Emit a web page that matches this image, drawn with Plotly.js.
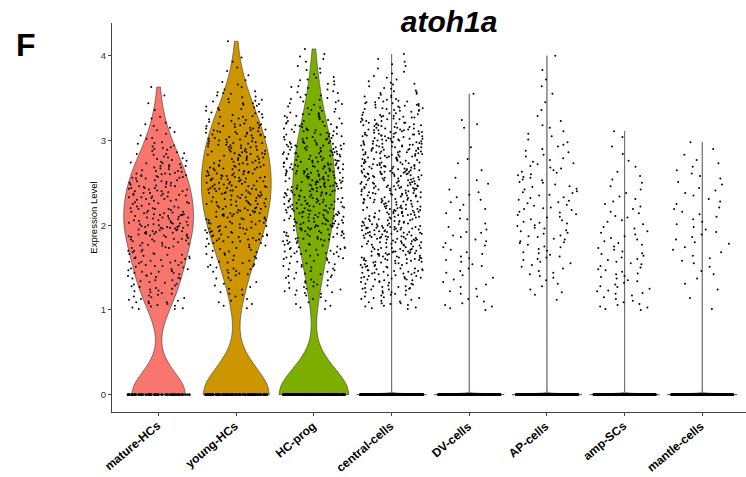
<!DOCTYPE html>
<html><head><meta charset="utf-8">
<script src="https://cdn.plot.ly/plotly-3.0.1.min.js"></script>
<style>html,body{margin:0;padding:0;background:#fff}#chart{width:746px;height:477px}</style>
</head><body><div id="chart"></div>
<script>
const categories = ['mature-HCs','young-HCs','HC-prog','central-cells','DV-cells','AP-cells','amp-SCs','mantle-cells'];
const fillColors = ['#F8766D','#CD9600','#7CAE00','#00BE67','#00BFC4','#00A9FF','#C77CFF','#FF61CC'];
// number of cells with zero expression in each group
const zeroCounts = [89,150,320,2500,500,600,500,400];
// non-zero expression values
const matureHCs = [1.04,1.87,2.31,1.52,2.64,2.08,1.29,2.45,1.73,2.93,1.16,2.19,1.95,2.57,1.41,2.71,2.02,1.68,3.08,2.36,
1.63,2.12,1.08,2.49,1.91,2.77,1.35,2.26,1.58,2.03,2.84,1.79,2.4,1.22,2.61,1.98,3.17,1.45,2.15,2.53,
2.21,1.12,1.84,2.68,1.47,2.33,2.05,1.66,2.92,1.27,2.46,1.93,2.13,1.56,2.74,1.02,2.38,1.81,3.26,2.59,
1.75,2.56,1.33,2.09,2.89,1.61,2.25,1.19,2.42,1.96,1.5,2.69,2.17,1.88,2.98,1.39,2.3,2.0,1.7,3.12,
2.47,1.43,1.99,2.63,1.06,2.22,1.83,2.8,1.57,2.14,1.31,2.52,1.92,2.37,1.65,2.73,1.24,2.06,3.03,2.44,
1.89,2.29,1.14,2.58,1.76,2.01,2.86,1.48,2.19,1.37,2.65,1.97,2.41,1.6,2.11,1.01,2.5,1.85,3.21,2.34,
2.07,1.53,2.72,1.26,2.35,1.94,1.69,2.6,2.16,1.4,2.96,1.8,2.27,1.1,2.44,2.04,1.59,2.78,3.36,1.9,
1.44,2.4,1.86,2.2,1.17,2.67,1.98,2.55,1.34,2.12,1.77,2.83,1.62,2.32,2.0,1.05,2.48,1.93,2.91,3.15,
2.26,1.71,2.09,1.21,2.53,1.87,2.75,1.46,2.38,1.97,1.55,2.62,2.14,1.3,2.85,1.82,2.44,1.09,2.02,3.44,
1.96,2.57,1.38,2.23,1.67,2.7,1.13,2.1,2.46,1.84,1.51,2.94,2.31,1.74,2.05,1.25,2.59,1.91,3.06,2.37,
2.43,1.58,1.92,2.66,1.03,2.18,1.78,2.52,1.42,2.29,2.0,1.64,2.81,1.35,2.13,2.4,1.88,1.18,2.73,3.28,
1.81,2.34,1.49,2.11,2.61,1.23,2.47,1.95,1.7,2.88,2.06,1.57,2.22,1.11,2.68,1.99,2.36,1.44,3.1,2.55,
2.16,1.66,2.79,1.32,2.42,1.89,2.03,1.15,2.56,1.76,2.3,1.53,2.97,2.09,1.4,2.64,1.94,1.07,2.25,3.63,
1.52,2.5,1.97,2.27,1.28,2.7,1.83,2.15,1.61,2.39,1.01,2.84,2.01,1.73,2.58,1.45,2.2,1.9,3.02,2.45,
2.33,1.2,1.86,2.6,1.56,2.08,2.76,1.37,2.19,1.79,2.51,1.09,2.35,1.98,1.65,2.9,2.12,1.48,3.19,3.53];
const youngHCs = [1.13,1.52,1.71,1.88,1.96,2.07,2.18,2.26,2.37,2.44,2.58,2.63,2.77,2.84,2.97,3.06,3.15,3.28,3.47,3.66,
1.31,1.45,1.64,1.83,1.99,2.02,2.14,2.23,2.39,2.41,2.53,2.68,2.72,2.81,2.93,3.01,3.19,3.24,3.42,2.5,
1.05,1.57,1.77,1.81,1.92,2.11,2.19,2.28,2.31,2.47,2.56,2.61,2.79,2.89,2.95,3.09,3.12,3.36,3.55,3.82,
1.24,1.49,1.68,1.86,1.94,2.04,2.16,2.21,2.34,2.43,2.59,2.66,2.74,2.82,2.99,3.03,3.17,3.31,3.44,2.52,
1.38,1.41,1.74,1.79,1.9,2.09,2.13,2.25,2.38,2.46,2.51,2.64,2.7,2.86,2.91,3.07,3.2,3.27,3.51,3.71,
1.18,1.55,1.62,1.84,1.97,2.06,2.17,2.29,2.33,2.48,2.57,2.62,2.76,2.88,2.94,3.04,3.14,3.38,3.46,2.41,
1.27,1.47,1.73,1.89,1.93,2.01,2.12,2.22,2.36,2.42,2.55,2.69,2.73,2.83,2.96,3.1,3.18,3.25,3.58,3.93,
1.09,1.59,1.66,1.82,1.98,2.08,2.2,2.27,2.35,2.49,2.54,2.67,2.78,2.85,2.92,3.02,3.16,3.33,3.4,2.6,
1.35,1.43,1.76,1.87,1.91,2.03,2.15,2.24,2.32,2.45,2.58,2.61,2.71,2.87,2.98,3.08,3.11,3.29,3.49,3.63,
1.21,1.51,1.69,1.8,1.95,2.1,2.18,2.3,2.39,2.4,2.52,2.65,2.75,2.8,2.9,3.05,3.21,3.35,3.53,2.46,
1.02,1.56,1.63,1.85,1.99,2.05,2.11,2.26,2.37,2.47,2.56,2.63,2.79,2.84,2.97,3.0,3.13,3.22,3.43,3.77,
1.33,1.48,1.78,1.83,1.92,2.07,2.19,2.21,2.31,2.44,2.59,2.68,2.72,2.89,2.93,3.09,3.19,3.3,3.57,2.55,
1.16,1.53,1.72,1.88,1.96,2.02,2.14,2.28,2.34,2.42,2.51,2.64,2.77,2.81,2.95,3.06,3.15,3.37,3.45,3.86,
1.29,1.44,1.67,1.81,1.97,2.09,2.16,2.23,2.38,2.48,2.57,2.66,2.7,2.86,2.91,3.03,3.12,3.26,3.52,2.43,
1.07,1.58,1.75,1.86,1.9,2.04,2.13,2.25,2.33,2.45,2.53,2.62,2.74,2.88,2.99,3.07,3.17,3.32,3.41,3.69,
1.37,1.46,1.61,1.84,1.94,2.06,2.17,2.29,2.36,2.41,2.54,2.69,2.78,2.83,2.92,3.01,3.2,3.23,3.56,2.58,
1.19,1.54,1.79,1.89,1.93,2.01,2.12,2.22,2.32,2.49,2.55,2.61,2.73,2.87,2.96,3.1,3.14,3.39,3.48,4.17,
1.25,1.42,1.7,1.82,1.98,2.08,2.2,2.27,2.35,2.46,2.59,2.67,2.76,2.82,2.94,3.04,3.18,3.28,3.6,2.5,
1.11,1.5,1.65,1.87,1.91,2.03,2.15,2.24,2.39,2.43,2.52,2.65,2.71,2.85,2.98,3.08,3.11,3.34,3.44,3.98];
const hcProg = [2.41,1.86,2.97,1.22,2.63,2.15,1.67,3.08,2.28,1.93,2.52,1.48,2.84,2.06,3.31,2.72,1.75,2.36,3.47,2.91,
1.58,2.24,2.87,2.01,1.81,2.69,3.16,1.34,2.47,2.12,2.78,1.96,2.33,3.02,1.66,2.55,3.38,2.94,2.18,3.62,
2.09,1.44,2.61,3.11,1.89,2.37,2.83,1.07,2.26,2.99,1.72,2.5,2.14,3.24,1.92,2.76,2.43,3.53,2.05,2.66,
2.74,1.61,2.2,3.05,1.84,2.44,2.93,1.28,2.58,2.03,3.19,1.77,2.31,2.68,1.98,3.36,2.11,2.86,1.53,3.44,
1.95,2.53,3.13,1.39,2.29,2.81,1.69,2.4,2.07,2.96,1.83,2.64,3.27,2.17,2.47,1.5,3.01,2.73,2.25,3.71,
2.35,1.79,2.88,1.17,2.6,2.13,3.09,1.91,2.45,2.79,1.63,2.22,3.33,2.02,2.54,1.46,2.95,2.67,3.49,2.38,
2.71,2.04,1.55,3.14,2.32,1.87,2.62,2.98,1.32,2.19,2.51,3.22,1.74,2.85,2.08,2.42,1.99,3.4,2.77,3.58,
1.68,2.46,3.03,2.16,1.94,2.7,1.25,2.36,2.89,1.82,2.57,3.17,2.1,2.65,1.42,3.29,2.27,2.92,2.01,3.8,
2.23,1.88,2.59,3.07,1.6,2.4,2.82,1.13,2.14,2.75,3.2,1.97,2.49,2.06,1.7,3.35,2.64,2.97,2.31,3.45,
2.56,1.47,2.18,2.9,1.85,2.34,3.12,1.36,2.67,2.03,2.8,1.78,2.43,3.26,1.93,2.53,2.12,3.51,2.74,3.66,
1.99,2.61,1.65,3.0,2.28,2.86,1.21,2.47,2.15,2.72,1.84,3.15,2.39,1.56,2.58,2.05,3.3,2.94,2.21,2.5,
2.44,1.73,2.96,1.3,2.2,2.63,3.1,1.9,2.52,2.08,2.81,1.64,2.35,3.23,1.96,2.69,2.27,3.42,2.87,3.75,
2.12,1.52,2.68,3.04,1.8,2.38,2.91,1.03,2.57,2.24,3.18,1.87,2.46,2.76,1.71,3.32,2.01,2.83,2.3,3.56,
2.65,1.94,2.17,3.13,1.41,2.49,2.85,1.76,2.33,3.06,2.1,2.73,1.59,2.41,3.27,2.0,2.55,2.99,2.22,3.64,
1.83,2.58,3.01,2.25,1.67,2.79,1.27,2.42,2.11,2.93,1.98,3.21,2.36,1.49,2.62,2.04,3.39,2.7,2.48,3.85,
2.3,1.62,2.84,1.19,2.54,2.07,3.08,1.91,2.4,2.75,1.78,2.19,3.16,2.61,1.45,2.95,2.29,3.46,2.66,2.02,
2.77,2.13,1.57,3.11,2.45,1.86,2.64,2.97,1.35,2.23,2.52,3.25,1.72,2.88,2.05,2.37,1.95,3.37,2.71,3.6,
1.74,2.5,3.04,2.18,1.9,2.67,1.23,2.39,2.92,1.81,2.59,3.14,2.09,2.63,1.43,3.28,2.26,2.9,2.0,3.72,
2.21,1.85,2.6,3.02,1.63,2.43,2.78,1.11,2.15,2.73,3.19,1.99,2.51,2.08,1.69,3.34,2.62,2.96,2.34,3.5,
2.53,1.51,2.2,2.86,1.88,2.32,3.09,1.38,2.69,2.06,2.82,1.77,2.47,3.23,1.92,2.55,2.14,3.43,2.76,3.93,
1.97,2.64,1.66,3.05,2.27,2.89,1.26,2.44,2.17,2.7,1.84,3.12,2.41,1.54,2.57,2.03,3.31,2.98,2.24,4.02,
2.48,1.7,2.94,1.33,2.22,2.66,3.07,1.93,2.5,2.1,2.85,1.61,2.38,3.2,1.96,2.72,2.29,3.48,2.84,3.67,
2.16,1.55,2.71,3.03,1.82,2.35,2.93,1.05,2.56,2.25,3.17,1.89,2.45,2.77,1.73,3.29,2.02,2.81,2.31,4.08,
1.15,1.29,1.37,1.2,1.09,1.24,3.78,3.88,3.7,3.96,1.01,1.32,3.83,3.57,3.63,1.18,3.99,3.74,1.4,3.54];
const centralCells = [2.31,1.74,2.88,1.12,3.05,2.46,1.93,2.67,1.58,3.38,2.09,1.37,2.72,1.86,3.21,2.54,1.65,2.19,2.98,3.52,
1.46,2.77,3.12,1.89,2.03,2.61,1.28,3.44,2.36,1.71,2.92,1.55,2.25,3.28,1.97,2.49,1.04,2.83,3.66,2.14,
2.58,1.33,1.82,3.09,2.41,2.95,1.62,2.17,3.35,1.49,2.71,1.91,2.28,1.16,3.17,2.64,1.77,2.06,3.48,2.86,
1.95,3.01,2.52,1.41,2.23,2.79,1.68,3.25,1.24,2.38,2.99,1.84,2.11,3.57,1.53,2.66,3.14,2.44,1.07,2.01,
2.73,1.59,3.32,2.18,1.88,2.47,1.36,2.91,3.06,1.72,2.33,2.62,1.99,3.41,1.45,2.82,2.15,1.21,3.19,2.55,
1.64,2.27,3.46,2.84,1.93,1.18,2.57,3.11,2.05,1.51,2.69,3.29,1.79,2.42,2.96,1.31,2.2,3.72,2.6,1.86,
3.03,2.35,1.42,2.78,1.97,2.51,1.67,3.23,2.12,1.27,2.87,3.39,1.81,2.45,2.01,1.56,2.65,3.15,2.3,1.1,
2.43,1.76,2.94,1.39,3.08,2.22,1.92,2.68,3.51,1.61,2.37,2.81,1.14,2.08,3.27,1.85,2.59,1.48,3.0,2.74,
1.54,2.63,3.36,2.16,1.8,2.89,1.25,3.13,2.4,1.98,2.53,1.69,3.45,2.26,1.43,2.76,3.02,1.9,2.1,3.81,
2.85,1.35,2.29,3.18,1.73,2.5,2.04,1.58,3.31,2.67,1.96,2.39,1.19,2.93,3.07,1.63,2.21,2.7,1.44,3.59,
2.12,1.87,3.24,2.56,1.3,2.8,1.66,2.34,3.42,1.94,2.48,2.97,1.52,2.07,3.1,1.78,2.63,1.22,2.86,3.33,
1.71,2.44,2.99,1.47,3.2,2.18,1.83,2.74,1.05,2.58,3.37,1.6,2.32,2.9,2.02,1.38,3.04,2.66,1.95,2.24,
3.16,2.05,1.57,2.61,3.47,1.89,2.38,1.26,2.83,2.14,1.74,3.06,2.52,1.99,1.45,2.77,3.26,2.27,1.69,2.95,
2.47,1.33,2.9,1.8,3.13,2.2,1.62,2.69,3.4,2.09,1.5,2.55,1.92,3.22,2.36,1.15,2.81,3.01,1.76,2.43,
1.97,2.72,3.3,1.41,2.29,2.6,1.84,3.09,2.15,1.65,2.87,1.29,2.5,3.55,2.0,1.73,2.42,2.93,1.53,3.18,
2.64,1.9,2.26,3.44,1.36,2.78,2.1,1.59,3.03,2.53,1.82,2.35,2.98,1.2,2.7,3.28,1.67,2.17,3.68,2.46,
1.48,2.84,3.12,2.04,1.78,2.57,1.24,3.36,2.31,1.94,2.65,1.61,2.89,3.07,2.22,1.39,2.49,1.86,3.49,2.76,
2.39,1.56,2.96,3.21,1.7,2.13,2.62,1.08,2.8,3.14,1.88,2.45,1.43,3.34,2.07,2.71,1.98,2.28,3.0,1.64,
3.25,2.51,1.75,2.86,1.32,2.19,3.05,1.93,2.6,1.52,2.37,3.43,2.03,1.81,2.74,2.94,1.27,2.41,3.17,1.68,
2.08,1.44,2.68,3.38,1.85,2.3,2.91,1.6,3.11,2.55,1.96,2.16,1.17,2.82,3.29,1.72,2.47,2.0,3.62,2.63,
1.83,2.75,3.19,2.24,1.49,2.58,1.99,3.08,2.34,1.35,2.88,1.66,2.43,3.46,2.11,1.79,2.67,3.02,1.55,2.21,
2.92,1.62,2.4,3.27,1.91,2.06,2.7,1.23,3.15,2.48,1.77,2.33,2.97,1.46,2.59,3.37,2.14,1.87,2.79,3.9,
1.51,2.18,3.04,2.61,1.95,2.85,1.37,3.23,2.27,1.7,2.52,2.02,3.53,1.84,2.44,2.94,1.13,2.66,3.1,1.6,
2.36,1.89,2.81,3.32,1.42,2.23,2.73,1.75,3.06,2.09,1.58,2.5,2.9,1.28,2.62,3.41,1.97,2.15,1.69,2.99,
3.09,2.45,1.64,2.77,1.88,2.32,3.18,1.4,2.57,2.04,1.81,2.86,3.35,1.53,2.19,2.69,1.96,1.21,2.42,3.74,
1.74,2.53,3.0,2.12,1.47,2.89,2.28,1.92,3.26,2.65,1.36,2.38,2.96,1.67,2.07,3.13,2.49,1.83,2.73,1.01,
2.6,1.34,2.2,3.42,1.98,2.83,1.59,2.46,3.05,2.17,1.72,2.71,1.25,2.35,3.2,2.92,1.9,2.55,1.5,3.58,
2.01,2.78,1.63,3.16,2.41,1.86,2.95,1.44,2.25,3.3,2.67,1.78,2.13,1.31,2.84,3.07,2.3,1.94,2.58,3.96,
1.57,2.47,3.24,1.99,2.74,1.38,2.31,2.87,1.8,3.12,2.1,1.66,2.63,3.39,2.22,1.47,2.93,2.05,1.73,3.02,
2.54,1.91,2.99,1.26,2.37,3.45,1.69,2.8,2.16,1.55,3.21,2.44,1.85,2.7,3.08,1.4,2.27,2.61,1.97,3.85,
1.06,1.11,1.03,1.18,1.09,3.76,3.64,4.02,3.88,3.7,3.5,3.56,3.61,3.79,1.14,1.02,3.93,3.67,3.54,1.08];
const dvCells = [1.0,1.16,1.04,1.38,1.06,1.59,1.13,1.08,1.27,1.1,1.19,1.02,1.22,1.33,1.46,1.3,1.44,1.52,1.25,1.57,
1.41,1.36,1.49,1.66,1.54,1.74,1.61,1.79,1.68,1.63,1.71,1.76,1.88,1.81,1.95,1.86,1.92,1.83,1.98,1.91,
2.07,2.02,2.18,2.14,2.08,2.19,2.3,2.24,2.39,2.27,2.36,2.33,2.53,2.42,2.56,2.49,2.73,2.65,2.78,2.92,
3.15,3.19,3.24,3.55];
const apCells = [1.12,1.18,1.24,1.31,1.21,1.38,1.28,1.35,1.46,1.4,1.53,1.42,1.57,1.49,1.59,1.44,1.51,1.55,
1.63,1.6,1.7,1.65,1.77,1.62,1.72,1.68,1.79,1.67,1.75,1.74,1.86,1.81,1.93,1.8,1.88,1.97,1.84,1.91,1.99,1.83,1.94,1.87,1.9,1.96,
2.06,2.0,2.12,2.03,2.18,2.09,2.15,2.02,2.1,2.19,2.04,2.13,2.07,2.16,2.24,2.2,2.3,2.21,2.36,2.27,2.33,2.23,2.38,2.26,2.32,2.29,2.39,2.35,
2.45,2.4,2.51,2.43,2.56,2.48,2.42,2.53,2.5,2.59,2.46,2.54,2.57,2.65,2.6,2.72,2.62,2.77,2.68,2.63,2.75,2.67,2.79,2.7,2.73,
2.81,2.88,2.83,2.95,2.86,2.98,2.9,2.93,3.01,3.11,3.05,3.18,3.08,3.15,3.23,3.36,3.29,3.45,3.55,3.64,3.72,3.83,4.0];
const ampSCs = [1.0,1.07,1.03,1.15,1.01,1.11,1.04,1.19,1.09,1.06,1.17,1.13,1.22,1.3,1.2,1.37,1.25,1.34,1.28,1.39,1.23,1.32,1.27,1.35,
1.45,1.4,1.52,1.43,1.57,1.47,1.42,1.54,1.5,1.59,1.48,1.55,1.62,1.69,1.6,1.75,1.66,1.71,1.64,1.79,1.67,1.73,1.77,
1.83,1.89,1.81,1.96,1.87,1.91,1.85,1.98,1.93,2.04,2.11,2.01,2.16,2.06,2.19,2.09,2.14,2.25,2.31,2.22,2.38,2.28,2.34,
2.46,2.42,2.54,2.5,2.58,2.63,2.76,2.69,2.84,2.93,3.04,3.11];
const mantleCells = [1.01,1.14,1.24,1.37,1.31,1.46,1.58,1.42,1.55,1.51,1.64,1.71,1.61,1.78,1.68,1.74,1.86,1.8,1.95,1.83,1.92,1.89,1.98,
2.07,2.01,2.16,2.1,2.04,2.19,2.13,2.25,2.21,2.35,2.28,2.38,2.31,2.44,2.41,2.55,2.48,2.58,2.51,2.65,2.61,2.73,2.69,2.77,2.83,2.9,2.98];
const nonzeroValues = [matureHCs, youngHCs, hcProg, centralCells, dvCells, apCells, ampSCs, mantleCells];

// R default bandwidth (bw.nrd0). When the interquartile range collapses
// (mostly zeros, Seurat's tiny tie-breaking noise) R's bandwidth becomes
// vanishingly small; a very small bandwidth is used for that case.
function bandwidthFor(v) {
  const n = v.length;
  const mean = v.reduce((a, b) => a + b, 0) / n;
  const sd = Math.sqrt(v.reduce((a, b) => a + (b - mean) * (b - mean), 0) / (n - 1));
  const s = v.slice().sort((a, b) => a - b);
  const q = p => { const h = (n - 1) * p, lo = Math.floor(h); return s[lo] + (h - lo) * (s[Math.min(lo + 1, n - 1)] - s[lo]); };
  const iqr = q(0.75) - q(0.25);
  if (iqr === 0) return 0.01;
  return 0.9 * Math.min(sd, iqr / 1.34) * Math.pow(n, -0.2);
}

const densityTraces = [], zeroTraces = [], pointTraces = [];
categories.forEach((cat, i) => {
  const zeros = new Array(zeroCounts[i]).fill(0);
  const all = zeros.concat(nonzeroValues[i]);
  densityTraces.push({
    type: 'violin', x: all.map(() => cat), y: all, name: cat,
    fillcolor: fillColors[i], line: {color: '#3a3a3a', width: 0.6},
    points: false, spanmode: 'hard', scalemode: 'width', width: 0.9,
    bandwidth: bandwidthFor(all), box: {visible: false}, meanline: {visible: false},
    hoverinfo: 'skip', showlegend: false
  });
  zeroTraces.push({
    type: 'violin', x: zeros.map(() => cat), y: zeros, name: cat,
    fillcolor: 'rgba(0,0,0,0)', line: {color: 'rgba(0,0,0,0)', width: 0},
    points: 'all', jitter: 0.89, pointpos: 0, width: 0.9,
    marker: {size: 2.2, color: '#000'}, box: {visible: false}, meanline: {visible: false},
    hoverinfo: 'skip', showlegend: false
  });
  pointTraces.push({
    type: 'violin', x: nonzeroValues[i].map(() => cat), y: nonzeroValues[i], name: cat,
    fillcolor: 'rgba(0,0,0,0)', line: {color: 'rgba(0,0,0,0)', width: 0},
    points: 'all', jitter: 0.89, pointpos: 0, width: 0.9,
    marker: {size: 2, color: '#000'}, box: {visible: false}, meanline: {visible: false},
    hoverinfo: 'skip', showlegend: false
  });
});

const labelAnnotations = categories.map(cat => ({
  text: '<b>' + cat + '</b>', xref: 'x', x: cat, yref: 'paper', y: -0.015,
  xanchor: 'right', yanchor: 'top', textangle: -40, xshift: 6,
  showarrow: false, borderpad: 0,
  font: {size: 12, color: '#000', family: 'Liberation Sans, Arial, sans-serif'}
}));

const layout = {
  width: 746, height: 477,
  margin: {l: 112, r: 0, t: 23, b: 65, pad: 0},
  paper_bgcolor: '#fff', plot_bgcolor: '#fff',
  showlegend: false,
  violinmode: 'overlay',
  font: {family: 'Liberation Sans, Arial, sans-serif', color: '#000'},
  title: {
    text: '<b><i>atoh1a</i></b>',
    font: {size: 30, color: '#000', family: 'Liberation Sans, Arial, sans-serif'},
    xref: 'container', x: 0.602, xanchor: 'center',
    yref: 'container', y: 0.954, yanchor: 'middle'
  },
  xaxis: {
    type: 'category', categoryorder: 'array', categoryarray: categories,
    range: [-0.6, 7.563], showline: true, linecolor: '#444', linewidth: 1,
    ticks: 'outside', ticklen: 3, tickcolor: '#444', tickwidth: 1,
    showticklabels: false,
    showgrid: false, zeroline: false, fixedrange: true
  },
  yaxis: {
    range: [-0.204, 4.386], tickvals: [0, 1, 2, 3, 4], ticktext: ['0', '1', '2', '3', '4'],
    showline: true, linecolor: '#444', linewidth: 1,
    ticks: 'outside', ticklen: 3, tickcolor: '#444', tickwidth: 1,
    tickfont: {size: 9.5, color: '#333'},
    showgrid: false, zeroline: false, fixedrange: true,
    title: {text: 'Expression Level', font: {size: 9.5, color: '#000'}, standoff: 1}
  },
  annotations: [{
    text: '<b>F</b>', xref: 'paper', yref: 'paper', x: -0.1546, y: 0.943,
    xanchor: 'left', yanchor: 'middle', showarrow: false,
    font: {size: 32, color: '#000', family: 'Liberation Sans, Arial, sans-serif'}
  }].concat(labelAnnotations)
};

Plotly.newPlot('chart', densityTraces.concat(zeroTraces, pointTraces), layout, {staticPlot: true, displayModeBar: false});
</script>
</body></html>
